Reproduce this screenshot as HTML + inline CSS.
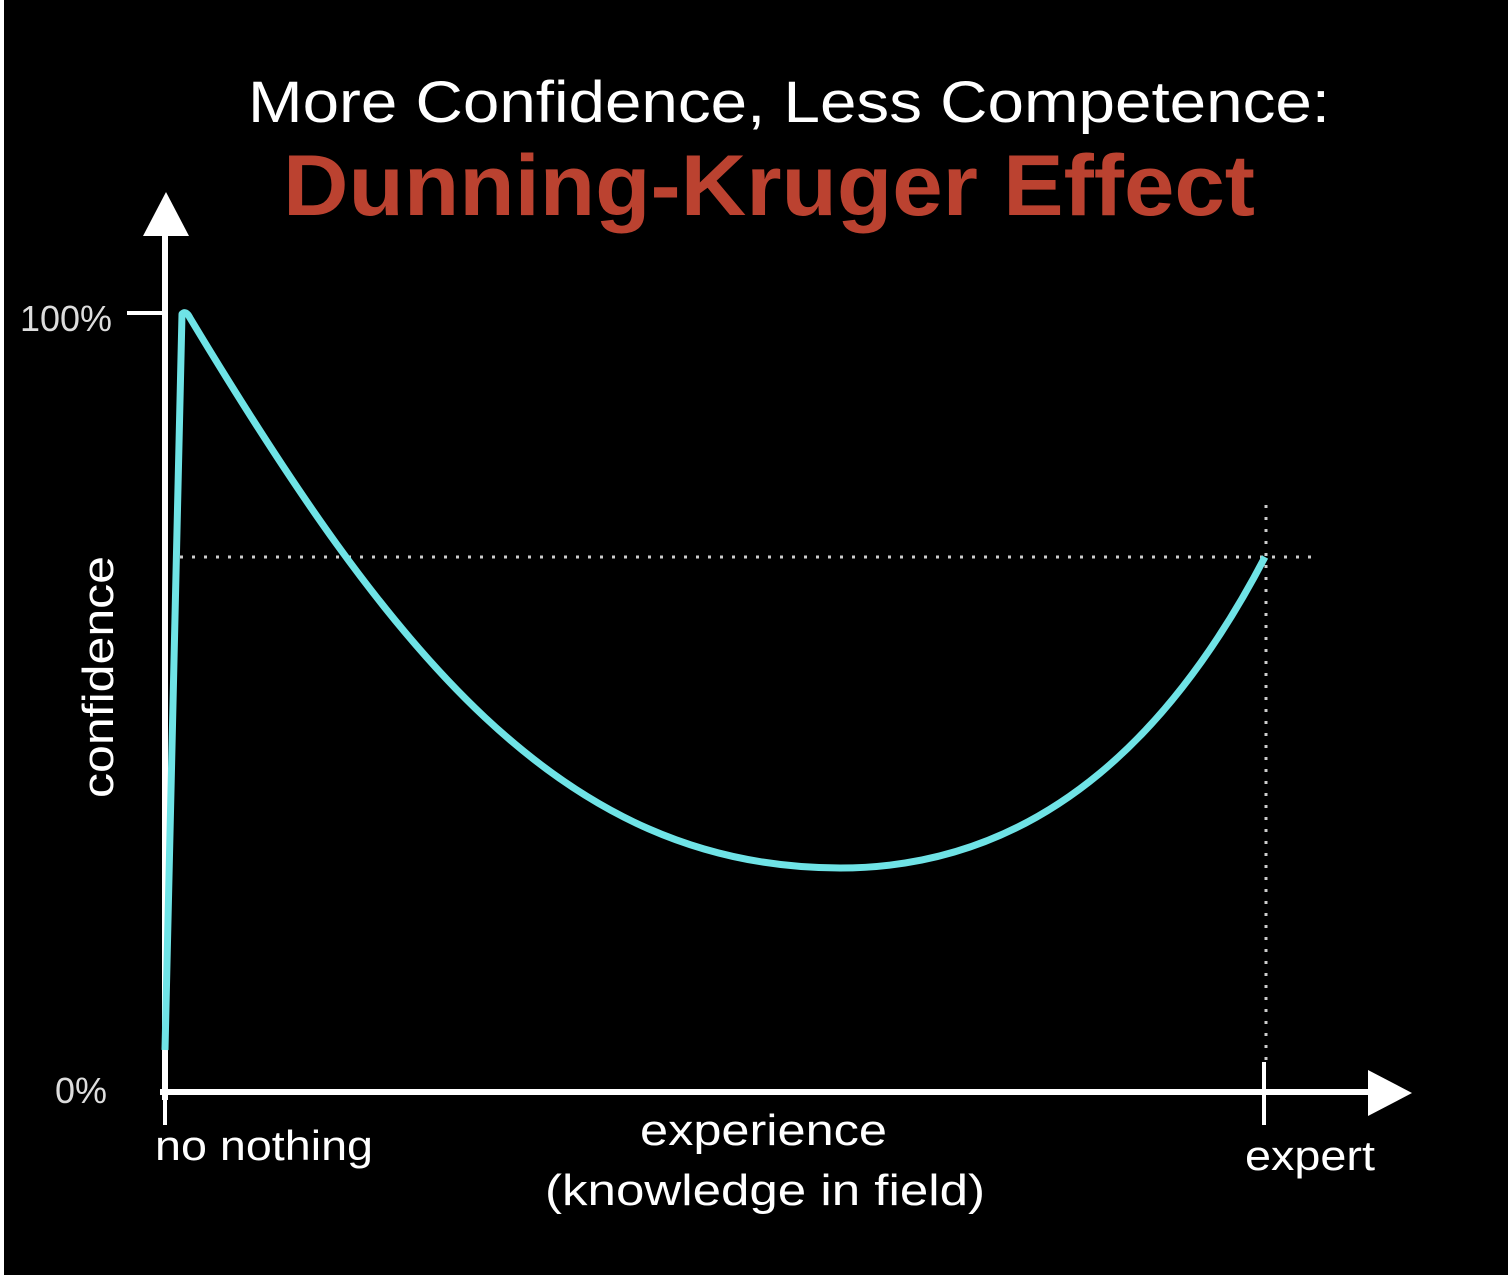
<!DOCTYPE html>
<html><head><style>html,body{margin:0;padding:0;background:#000;}svg{display:block;}</style></head>
<body>
<svg width="1508" height="1275" viewBox="0 0 1508 1275" xmlns="http://www.w3.org/2000/svg" font-family="Liberation Sans, sans-serif">
<rect width="1508" height="1275" fill="#000"/>
<rect x="0" y="0" width="4" height="1275" fill="#fff"/>
<text x="248" y="122" font-size="58" fill="#fff" textLength="1082" lengthAdjust="spacingAndGlyphs">More Confidence, Less Competence:</text>
<text x="283" y="215" font-size="86" font-weight="bold" fill="#bb4230" textLength="972" lengthAdjust="spacingAndGlyphs">Dunning-Kruger Effect</text>
<line x1="180" y1="557" x2="1318" y2="557" stroke="#ccc" stroke-width="3" stroke-dasharray="3 9"/>
<line x1="1266" y1="505" x2="1266" y2="1062" stroke="#ccc" stroke-width="3" stroke-dasharray="3 9"/>
<line x1="165" y1="232" x2="165" y2="1100" stroke="#fff" stroke-width="6"/>
<polygon points="166,192 143,236 189,236" fill="#fff"/>
<line x1="160" y1="1092" x2="1372" y2="1092" stroke="#fff" stroke-width="6"/>
<polygon points="1412,1093 1368,1070 1368,1116" fill="#fff"/>
<line x1="1264" y1="1062" x2="1264" y2="1125" stroke="#fff" stroke-width="4"/>
<line x1="165" y1="1092" x2="165" y2="1125" stroke="#fff" stroke-width="4"/>
<line x1="127" y1="313" x2="162" y2="313" stroke="#fff" stroke-width="4"/>
<path d="M165,1050 L182,314 Q186,310 190,318 C390,650 560,868 840,868 C1050,868 1180,720 1265,557" fill="none" stroke="#6fe3e6" stroke-width="7" stroke-linejoin="round"/>
<text x="20" y="331" font-size="36" fill="#ddd" textLength="92" lengthAdjust="spacingAndGlyphs">100%</text>
<text x="55" y="1103" font-size="36" fill="#ddd" textLength="52" lengthAdjust="spacingAndGlyphs">0%</text>
<text transform="translate(113,798) rotate(-90)" font-size="44" fill="#fff" textLength="242" lengthAdjust="spacingAndGlyphs">confidence</text>
<text x="155" y="1160" font-size="42" fill="#fff" textLength="218" lengthAdjust="spacingAndGlyphs">no nothing</text>
<text x="640" y="1145" font-size="44" fill="#fff" textLength="247" lengthAdjust="spacingAndGlyphs">experience</text>
<text x="545" y="1205" font-size="44" fill="#fff" textLength="440" lengthAdjust="spacingAndGlyphs">(knowledge in field)</text>
<text x="1245" y="1170" font-size="42" fill="#fff" textLength="130" lengthAdjust="spacingAndGlyphs">expert</text>
</svg>
</body></html>
